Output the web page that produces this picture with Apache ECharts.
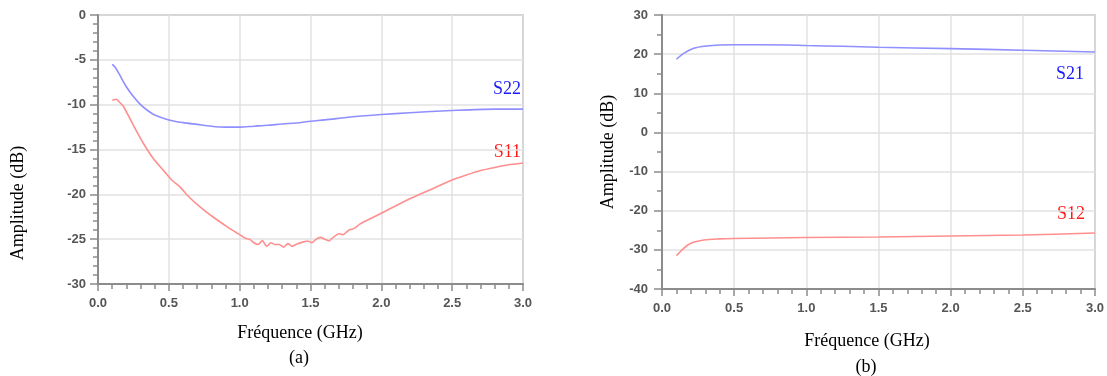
<!DOCTYPE html>
<html>
<head>
<meta charset="utf-8">
<script src="https://cdn.jsdelivr.net/npm/echarts@6/dist/echarts.min.js"></script>
<style>html,body{margin:0;padding:0;background:#fff}#c{width:1107px;height:376px}</style>
</head>
<body>
<div id="c"></div>
<script>
// ---- Data ----
const xTicks = ['0.0','0.5','1.0','1.5','2.0','2.5','3.0'];

const s11X = [0.10,0.13,0.15,0.18,0.25,0.32,0.39,0.46,0.52,0.58,0.63,0.72,0.81,0.91,0.97,1.00,1.04,1.07,1.10,1.13,1.16,1.19,1.22,1.25,1.28,1.31,1.34,1.37,1.41,1.45,1.48,1.51,1.54,1.57,1.60,1.63,1.66,1.70,1.73,1.77,1.81,1.85,1.90,2.00,2.10,2.20,2.30,2.40,2.50,2.60,2.70,2.80,2.90,3.00];
const s11Y = [-9.5,-9.4,-9.7,-10.2,-12.3,-14.3,-16.0,-17.3,-18.4,-19.2,-20.1,-21.4,-22.5,-23.6,-24.2,-24.5,-24.9,-25.0,-25.4,-25.6,-25.15,-25.8,-25.4,-25.6,-25.6,-25.9,-25.5,-25.8,-25.5,-25.3,-25.2,-25.4,-25.0,-24.8,-25.0,-25.2,-24.8,-24.4,-24.5,-24.0,-23.8,-23.3,-22.9,-22.1,-21.3,-20.5,-19.8,-19.1,-18.4,-17.85,-17.35,-17.0,-16.7,-16.5];

const s22X = [0.10,0.12,0.15,0.20,0.25,0.30,0.35,0.40,0.50,0.60,0.70,0.80,0.90,1.00,1.10,1.20,1.30,1.40,1.50,1.60,1.80,2.00,2.20,2.50,2.80,3.00];
const s22Y = [-5.5,-5.8,-6.6,-8.0,-9.1,-10.0,-10.65,-11.15,-11.7,-12.0,-12.2,-12.4,-12.5,-12.5,-12.4,-12.3,-12.15,-12.05,-11.85,-11.7,-11.35,-11.1,-10.9,-10.65,-10.5,-10.5];

const s21X = [0.10,0.15,0.22,0.31,0.40,0.50,0.87,1.00,1.25,1.50,2.00,2.50,3.00];
const s21Y = [18.7,20.2,21.5,22.1,22.35,22.4,22.35,22.2,22.0,21.75,21.4,21.0,20.55];

const s12X = [0.10,0.15,0.20,0.29,0.40,0.50,1.00,1.50,2.00,2.50,3.00];
const s12Y = [-31.5,-29.6,-28.3,-27.5,-27.2,-27.1,-26.85,-26.7,-26.45,-26.2,-25.7];

const zip = (xs, ys) => xs.map((x, i) => [x, ys[i]]);

// ---- Styles ----
const axisGray = '#8c8c8c';
const gridGray = '#e2e2e2';
const labelStyle = { color: '#555555', fontFamily: 'Liberation Sans, Arial', fontWeight: 'bold', fontSize: 13 };
const serif = 'Liberation Serif, Times New Roman, serif';
const blueLine = '#8f8fff', redLine = '#ff8f8f';
const blueText = '#1a1aff', redText = '#ff1a1a';

function xAxis(gridIndex) {
  return {
    type: 'value', gridIndex, min: 0, max: 3, interval: 0.5,
    axisLine: { show: true, onZero: false, lineStyle: { color: axisGray, width: 2 } },
    axisTick: { show: true, length: 7, lineStyle: { color: axisGray, width: 1.5 } },
    minorTick: { show: true, splitNumber: 5, length: 5, lineStyle: { color: axisGray, width: 1.5 } },
    splitLine: { show: true, lineStyle: { color: gridGray, width: 1.5 } },
    axisLabel: Object.assign({ margin: 13, formatter: v => xTicks[Math.round(v / 0.5)] }, labelStyle)
  };
}
function yAxis(gridIndex, min, max, interval, minorSplit, margin) {
  return {
    type: 'value', gridIndex, min, max, interval,
    axisLine: { show: true, onZero: false, lineStyle: { color: axisGray, width: 2 } },
    axisTick: { show: true, length: 8, lineStyle: { color: axisGray, width: 1.5 } },
    minorTick: { show: true, splitNumber: minorSplit, length: 5, lineStyle: { color: axisGray, width: 1.5 } },
    splitLine: { show: true, lineStyle: { color: gridGray, width: 1.5 } },
    axisLabel: Object.assign({ margin }, labelStyle)
  };
}
function line(data, color, xi, smooth) {
  return { type: 'line', data, xAxisIndex: xi, yAxisIndex: xi, showSymbol: false, smooth,
    lineStyle: { color, width: 1.6 }, itemStyle: { color }, animation: false };
}
function txt(x, y, text, size, fill, align, rot) {
  return { type: 'text', x, y, rotation: rot || 0,
    style: { text, font: size + 'px ' + serif, fill, align: align || 'center', verticalAlign: 'middle' } };
}

const chart = echarts.init(document.getElementById('c'), null, { renderer: 'canvas' });
chart.setOption({
  animation: false,
  grid: [
    { left: 98, top: 15, width: 425, height: 269, show: true, borderColor: '#a0a0a0', borderWidth: 1.5, backgroundColor: 'transparent' },
    { left: 662, top: 15, width: 433, height: 274, show: true, borderColor: '#a0a0a0', borderWidth: 1.5, backgroundColor: 'transparent' }
  ],
  xAxis: [xAxis(0), xAxis(1)],
  yAxis: [yAxis(0, -30, 0, 5, 5, 12), yAxis(1, -40, 30, 10, 2, 14)],
  series: [
    line(zip(s22X, s22Y), blueLine, 0, 0.3),
    line(zip(s11X, s11Y), redLine, 0, 0.15),
    line(zip(s21X, s21Y), blueLine, 1, 0.3),
    line(zip(s12X, s12Y), redLine, 1, 0.3)
  ],
  graphic: [
    txt(521, 89, 'S22', 18, blueText, 'right'),
    txt(521, 152, 'S11', 18, redText, 'right'),
    txt(1084, 74, 'S21', 18, blueText, 'right'),
    txt(1085, 214, 'S12', 18, redText, 'right'),
    txt(300, 333, 'Fréquence (GHz)', 18, '#000'),
    txt(299, 358, '(a)', 18, '#000'),
    txt(867, 341, 'Fréquence (GHz)', 18, '#000'),
    txt(866, 367, '(b)', 18, '#000'),
    txt(18, 203, 'Amplitude (dB)', 18, '#000', 'center', Math.PI / 2),
    txt(608, 152, 'Amplitude (dB)', 18, '#000', 'center', Math.PI / 2)
  ]
});
</script>
</body>
</html>
